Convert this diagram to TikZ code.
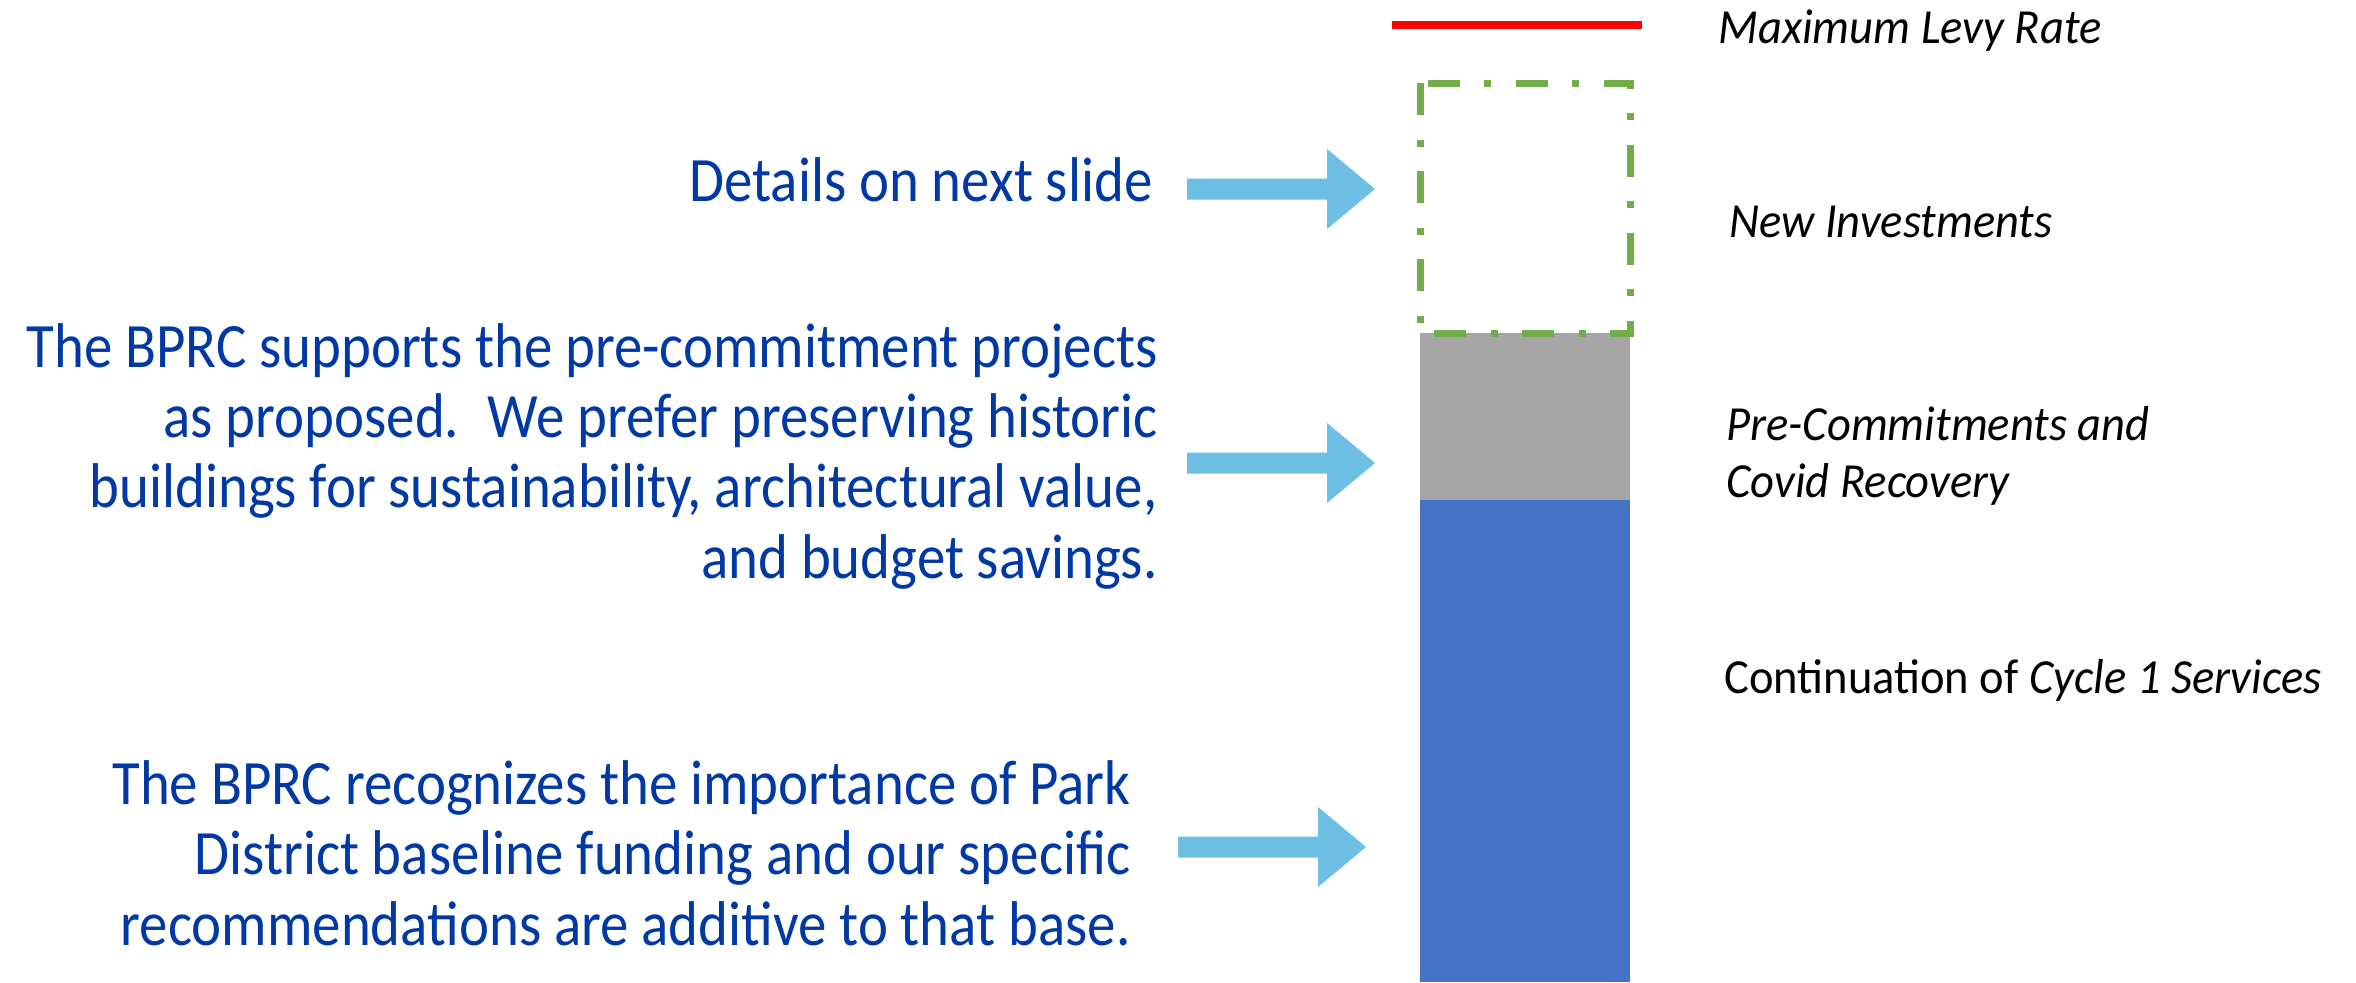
\documentclass[tikz,border=0pt]{standalone}
\usepackage{fontspec}
\setmainfont{Carlito}
\newfontfamily\leftfont[FakeStretch=0.90]{Carlito}
\newfontfamily\labfont[FakeStretch=0.95]{Carlito}
\definecolor{noteblue}{HTML}{0039A6}
\definecolor{arrowblue}{HTML}{6CBEE3}
\definecolor{barblue}{HTML}{4472C4}
\definecolor{bargray}{HTML}{A5A5A5}
\definecolor{newgreen}{HTML}{70AD47}
\definecolor{levyred}{HTML}{FF0000}
\begin{document}
\begin{tikzpicture}[x=0.5pt,y=-0.5pt]
\tikzset{
  note/.style={anchor=base east, align=right, inner sep=0pt, text=noteblue,
    font=\leftfont\fontsize{31.6}{35.15}\selectfont},
  lab/.style={anchor=base west, align=left, inner sep=0pt, text=black,
    font=\labfont\fontsize{24.5}{28.5}\selectfont},
  bigarrow/.pic={\fill[arrowblue] (0,-10.5) -- (140,-10.5) -- (140,-40) -- (188,0)
    -- (140,40) -- (140,10.5) -- (0,10.5) -- cycle;}
}
\useasboundingbox (0,0) rectangle (2356,982);
% bars
\fill[barblue] (1420,500) rectangle (1630,982);
\fill[bargray] (1420,333) rectangle (1630,500);
\draw[newgreen, line width=3.5pt, dash pattern=on 16pt off 12.5pt on 3.5pt off 12pt]
  (1420,83) rectangle (1630,333);
\draw[levyred, line width=4pt] (1392,25) -- (1642,25);
% labels (base anchor = baseline of the last line)
\node[lab] (levy) at (1718,43) {\itshape Maximum Levy Rate};
\node[lab] (newinv) at (1729,237) {\itshape New Investments};
\node[lab] (precom) at (1726,497) {\itshape Pre-Commitments and\\\itshape Covid Recovery};
\node[lab] (cont) at (1724,693) {Continuation of \textit{Cycle 1 Services}};
% notes
\node[note] (details) at (1153,201) {Details on next slide};
\node[note] (bprc1) at (1158,578) {The BPRC supports the pre-commitment projects\\
  as proposed.\hspace{0.45em}We prefer preserving historic\\
  buildings for sustainability, architectural value,\\
  and budget savings.};
\node[note] (bprc2) at (1131,945) {The BPRC recognizes the importance of Park\\
  District baseline funding and our specific\\
  recommendations are additive to that base.};
% arrows
\pic at (1187,189) {bigarrow};
\pic at (1187,463) {bigarrow};
\pic at (1178,847) {bigarrow};
\end{tikzpicture}
\end{document}
